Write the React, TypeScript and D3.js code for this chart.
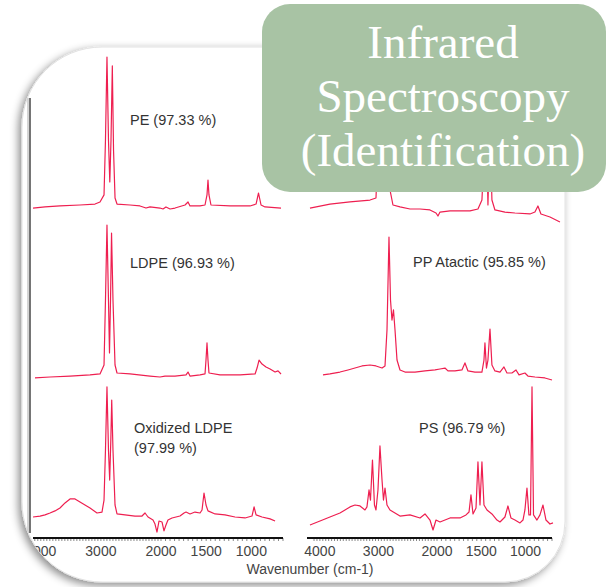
import React from 'react';
import * as d3 from 'd3';

type Pt = [number, number];

// Spectra: [wavenumber (cm-1), relative absorbance]
const peSpectrum: Pt[] = [
  [4130, 10.6], [3930, 11.3], [3681, 11.9], [3348, 12.5], [3098, 13.1], [3015, 14.4],
  [2948, 18.8], [2924, 53.1], [2899, 105], [2874, 53.1], [2852, 26.9], [2832, 53.1],
  [2810, 99.4], [2790, 46.9], [2765, 16.9], [2732, 13.1], [2516, 12.5], [2350, 11.9],
  [2250, 10.6], [2183, 11.3], [2017, 10.6], [1978, 10], [1945, 11.3], [1900, 10],
  [1845, 10.6], [1734, 12.5], [1701, 14.4], [1679, 11.9], [1568, 11.9], [1513, 12.5],
  [1491, 18.8], [1480, 28.1], [1469, 18.8], [1447, 12.5], [1236, 11.9], [1015, 11.9],
  [948, 13.1], [921, 20], [893, 12.5], [849, 11.3], [672, 10.6],
];

const ldpeSpectrum: Pt[] = [
  [4097, 4.4], [3847, 5], [3514, 5.6], [3181, 6.3], [3015, 6.9], [2948, 12.5],
  [2924, 53.1], [2899, 100], [2874, 53.1], [2857, 20], [2840, 53.1], [2823, 95],
  [2799, 53.1], [2765, 12.5], [2732, 7.5], [2516, 6.9], [2183, 5.6], [2017, 5],
  [1956, 5.6], [1845, 5.6], [1723, 6.3], [1701, 8.1], [1679, 5.6], [1568, 6.3],
  [1513, 6.9], [1502, 15.6], [1491, 26.3], [1480, 15.6], [1469, 7.5], [1347, 6.3],
  [1125, 6.3], [959, 6.9], [937, 10.6], [915, 15.6], [882, 13.1], [838, 11.3],
  [793, 10], [738, 8.1], [705, 8.8], [672, 6.9],
];

const oxLdpeSpectrum: Pt[] = [
  [4130, 17.5], [4013, 18.1], [3930, 18.8], [3847, 20], [3764, 21.3], [3681, 23.1],
  [3597, 26.3], [3514, 28.8], [3431, 28.8], [3348, 26.9], [3265, 25], [3181, 23.1],
  [3065, 20], [2982, 20.6], [2948, 28.1], [2924, 59.4], [2899, 98.8], [2874, 59.4],
  [2854, 40.6], [2835, 65.6], [2820, 90.6], [2799, 59.4], [2765, 25], [2732, 19.4],
  [2599, 18.8], [2433, 18.1], [2316, 18.1], [2266, 20], [2216, 17.5], [2133, 15.6],
  [2100, 13.1], [2067, 8.1], [2033, 15], [1989, 14.4], [1967, 8.8], [1945, 12.5],
  [1923, 15.6], [1878, 16.9], [1790, 18.1], [1745, 20], [1723, 20.6], [1679, 19.4],
  [1624, 20.6], [1568, 20], [1546, 21.9], [1524, 32.5], [1502, 25], [1480, 21.3],
  [1402, 19.4], [1292, 18.8], [1181, 17.5], [1070, 16.9], [993, 18.1], [970, 23.8],
  [948, 18.8], [882, 17.5], [793, 16.3], [738, 15],
];

const ppIsoSpectrum: Pt[] = [
  [4169, 10.6], [3828, 13.1], [3486, 14.4], [3144, 15.6], [3042, 16.9], [3008, 46.9],
  [2974, 103], [2939, 53.1], [2905, 96.9], [2871, 46.9], [2837, 81.3], [2803, 21.9],
  [2752, 12.5], [2632, 11.3], [2461, 10], [2290, 10], [2120, 9.4], [2017, 7.5],
  [1989, 5.6], [1966, 8.1], [1853, 8.8], [1740, 8.8], [1627, 8.8], [1537, 10],
  [1492, 15.6], [1446, 70], [1424, 12.5], [1401, 60], [1379, 15.6], [1345, 9.4],
  [1232, 8.1], [1119, 7.5], [949, 6.9], [893, 8.1], [859, 11.9], [825, 6.9],
  [723, 5], [610, 1.9],
];

const ppAtacticSpectrum: Pt[] = [
  [3947, 6.3], [3828, 6.9], [3657, 8.1], [3520, 9.4], [3401, 10.6], [3281, 11.9],
  [3144, 12.5], [3042, 11.9], [2939, 10.6], [2888, 11.9], [2854, 34.4], [2820, 92.5],
  [2794, 53.1], [2769, 40.6], [2743, 46.9], [2717, 34.4], [2683, 15.6], [2632, 9.4],
  [2547, 8.1], [2376, 8.1], [2205, 8.8], [2034, 9.4], [1966, 10], [1910, 10.6],
  [1876, 8.8], [1797, 8.8], [1718, 9.4], [1684, 13.8], [1650, 8.8], [1571, 8.1],
  [1492, 8.1], [1469, 15.6], [1458, 26.3], [1441, 10.6], [1424, 15.6], [1401, 35],
  [1379, 12.5], [1345, 8.8], [1288, 8.1], [1243, 11.3], [1209, 7.5], [1153, 7.5],
  [1107, 9.4], [1073, 6.3], [1006, 7.5], [972, 5.6], [893, 5], [780, 4.4], [700, 3.1],
];

const psSpectrum: Pt[] = [
  [4169, 12.5], [3998, 15], [3828, 17.5], [3657, 20], [3571, 21.9], [3486, 23.8],
  [3401, 25], [3315, 24.4], [3230, 21.9], [3196, 23.8], [3161, 34.4], [3136, 28.1],
  [3102, 53.1], [3068, 25], [3042, 21.9], [3008, 34.4], [2974, 61.9], [2939, 40.6],
  [2914, 28.1], [2888, 35.6], [2854, 25], [2803, 21.9], [2632, 18.1], [2461, 18.8],
  [2290, 16.9], [2205, 19.4], [2120, 15.6], [2068, 9.4], [2017, 15.6], [1966, 14.4],
  [1853, 16.9], [1740, 16.9], [1672, 18.8], [1638, 20.6], [1616, 31.3], [1593, 19.4],
  [1559, 23.1], [1537, 51.9], [1514, 25], [1492, 51.9], [1469, 25], [1435, 21.9],
  [1379, 19.4], [1322, 15.6], [1288, 14.4], [1232, 17.5], [1198, 24.4], [1164, 16.9],
  [1119, 15.6], [1062, 13.8], [1028, 15.6], [1006, 21.9], [983, 35.6], [961, 18.8],
  [943, 18.8], [926, 98.8], [909, 18.8], [870, 15.6], [836, 18.8], [802, 25],
  [768, 15.6], [723, 13.1], [689, 13.8],
];

const majorTicks = [4000, 3000, 2000, 1500, 1000];
const titleLines = ['Infrared', 'Spectroscopy', '(Identification)'];
const axisTitle = 'Wavenumber (cm-1)';

const W = 607;
const H = 587;
const LINE = '#ee1f50';
const LABEL_FONT = '"Liberation Sans", Arial, sans-serif';

// Each column uses the usual IR split scale (expanded below 2000 cm-1)
const leftX = d3.scaleLinear().domain([4130, 2000, 650]).range([33, 161, 283]);
const rightX = d3.scaleLinear().domain([4220, 2000, 700]).range([307, 437, 552]);
const rowBottoms = [225, 385, 545];
const rowY = (row: number) =>
  d3.scaleLinear().domain([0, 100]).range([rowBottoms[row], rowBottoms[row] - 160]);

const panels = [
  { data: peSpectrum, col: 0, row: 0, label: ['PE (97.33 %)'], lx: 130, ly: 125 },
  { data: ppIsoSpectrum, col: 1, row: 0, label: [] as string[], lx: 0, ly: 0 },
  { data: ldpeSpectrum, col: 0, row: 1, label: ['LDPE (96.93 %)'], lx: 130, ly: 268 },
  { data: ppAtacticSpectrum, col: 1, row: 1, label: ['PP Atactic (95.85 %)'], lx: 413, ly: 267 },
  { data: oxLdpeSpectrum, col: 0, row: 2, label: ['Oxidized LDPE', '(97.99 %)'], lx: 134, ly: 433 },
  { data: psSpectrum, col: 1, row: 2, label: ['PS (96.79 %)'], lx: 419, ly: 433 },
];

// Card outline: x 22..565, y 47..582 with mixed corner radii
const cardPath = [
  'M 102 47', 'H 545', 'A 20 20 0 0 1 565 67', 'V 522',
  'A 60 60 0 0 1 505 582', 'H 102', 'A 80 80 0 0 1 22 502',
  'V 127', 'A 80 80 0 0 1 102 47', 'Z',
].join(' ');

const AXIS_Y = 538;

function XAxis({ scale }: { scale: d3.ScaleLinear<number, number> }) {
  const [x0, x1] = [scale.range()[0], scale.range()[scale.range().length - 1]];
  const d = scale.domain();
  const minor = d3.range(4100, d[d.length - 1] - 1, -50).filter((v) => scale(v) >= x0 && scale(v) <= x1);
  return (
    <g>
      {minor.map((v) => (
        <line key={v} x1={scale(v)} x2={scale(v)} y1={AXIS_Y} y2={AXIS_Y + 3} stroke="#555" strokeWidth={0.7} />
      ))}
      <line x1={x0} x2={x1} y1={AXIS_Y} y2={AXIS_Y} stroke="#111" strokeWidth={2} />
      {majorTicks.map((v) => (
        <text key={v} x={scale(v)} y={556} textAnchor="middle" fontSize={14} fill="#444" fontFamily={LABEL_FONT}>
          {v}
        </text>
      ))}
    </g>
  );
}

export default function App() {
  return (
    <svg width={W} height={H} viewBox={`0 0 ${W} ${H}`} style={{ position: 'fixed', left: 0, top: 0, background: '#fff' }}>
      <defs>
        <filter id="cardShadow" x="-10%" y="-10%" width="120%" height="120%">
          <feDropShadow dx={-3} dy={3} stdDeviation={4} floodColor="#000" floodOpacity={0.45} />
        </filter>
        <clipPath id="cardClip">
          <path d={cardPath} />
        </clipPath>
      </defs>

      <rect width={W} height={H} fill="#fff" />
      <path d={cardPath} fill="#fff" stroke="#e2e2e2" strokeWidth={1} filter="url(#cardShadow)" />

      <g clipPath="url(#cardClip)">
        {/* left spine */}
        <line x1={28} x2={28} y1={98} y2={533} stroke="#aaa" strokeWidth={1} />
        <line x1={30} x2={30} y1={98} y2={533} stroke="#3a3a3a" strokeWidth={1.4} />

        {panels.map((p, i) => {
          const x = p.col === 0 ? leftX : rightX;
          const y = rowY(p.row);
          const line = d3.line<Pt>().x((d) => x(d[0])).y((d) => y(d[1]));
          return (
            <g key={i}>
              <path d={line(p.data) ?? ''} fill="none" stroke={LINE} strokeWidth={1.2} strokeLinejoin="round" />
              {p.label.map((t, j) => (
                <text key={j} x={p.lx} y={p.ly + j * 20} fontSize={14.5} fill="#333" fontFamily={LABEL_FONT}>
                  {t}
                </text>
              ))}
            </g>
          );
        })}

        <XAxis scale={leftX} />
        <XAxis scale={rightX} />
        <text x={310} y={574} textAnchor="middle" fontSize={14} fill="#444" fontFamily={LABEL_FONT}>
          {axisTitle}
        </text>
      </g>

      <rect x={262} y={4} width={344} height={188} rx={28} fill="#a8c3a4" />
      {titleLines.map((t, i) => (
        <text
          key={t}
          x={443}
          y={58 + i * 54}
          textAnchor="middle"
          fontSize={47}
          fill="#fff"
          fontFamily='"Liberation Serif", "Times New Roman", serif'
        >
          {t}
        </text>
      ))}
    </svg>
  );
}
